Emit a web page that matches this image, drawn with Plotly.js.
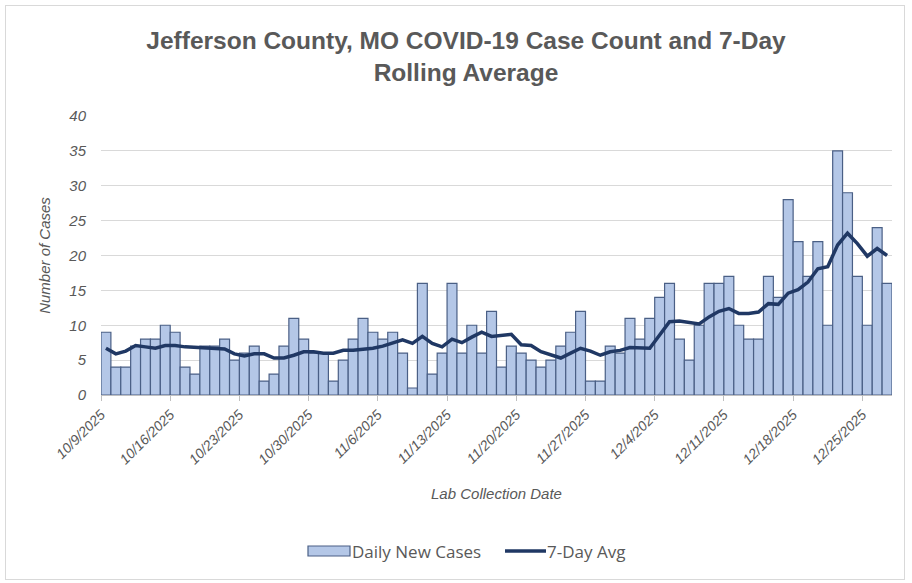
<!DOCTYPE html>
<html>
<head>
<meta charset="utf-8">
<script src="https://cdn.plot.ly/plotly-3.0.1.min.js"></script>
<style>
html,body{margin:0;padding:0;background:#fff;}
#frame{position:absolute;left:5px;top:5px;width:900px;height:575px;border:1px solid #d9d9d9;box-sizing:border-box;}
#chart{position:absolute;left:0;top:0;width:912px;height:583px;}
</style>
</head>
<body>
<div id="frame"></div>
<div id="chart"></div>
<script>
const dates = [
'2025-10-09','2025-10-10','2025-10-11','2025-10-12','2025-10-13','2025-10-14','2025-10-15','2025-10-16','2025-10-17','2025-10-18',
'2025-10-19','2025-10-20','2025-10-21','2025-10-22','2025-10-23','2025-10-24','2025-10-25','2025-10-26','2025-10-27','2025-10-28',
'2025-10-29','2025-10-30','2025-10-31','2025-11-01','2025-11-02','2025-11-03','2025-11-04','2025-11-05','2025-11-06','2025-11-07',
'2025-11-08','2025-11-09','2025-11-10','2025-11-11','2025-11-12','2025-11-13','2025-11-14','2025-11-15','2025-11-16','2025-11-17',
'2025-11-18','2025-11-19','2025-11-20','2025-11-21','2025-11-22','2025-11-23','2025-11-24','2025-11-25','2025-11-26','2025-11-27',
'2025-11-28','2025-11-29','2025-11-30','2025-12-01','2025-12-02','2025-12-03','2025-12-04','2025-12-05','2025-12-06','2025-12-07',
'2025-12-08','2025-12-09','2025-12-10','2025-12-11','2025-12-12','2025-12-13','2025-12-14','2025-12-15','2025-12-16','2025-12-17',
'2025-12-18','2025-12-19','2025-12-20','2025-12-21','2025-12-22','2025-12-23','2025-12-24','2025-12-25','2025-12-26','2025-12-27'
];
const dailyCases = [
9,4,4,7,8,8,10,9,4,3,
7,7,8,5,6,7,2,3,7,11,
8,6,6,2,5,8,11,9,8,9,
6,1,16,3,6,16,6,10,6,12,
4,7,6,5,4,5,7,9,12,2,
2,7,6,11,8,11,14,16,8,5,
10,16,16,17,10,8,8,17,14,28,
22,17,22,10,35,29,17,10,24,16
];
const avg7 = [
6.7,5.9,6.3,7.1,6.9,6.7,7.1,7.1,6.9,6.8,
6.7,6.7,6.6,5.9,5.6,5.9,5.9,5.3,5.3,5.7,
6.2,6.2,6.0,6.0,6.4,6.4,6.5,6.7,7.0,7.5,
7.9,7.4,8.4,7.4,6.9,8.0,7.5,8.3,9.0,8.4,
8.6,8.7,7.2,7.1,6.2,5.8,5.3,6.0,6.7,6.3,
5.7,6.2,6.4,6.8,6.7,6.7,8.6,10.5,10.6,10.4,
10.2,11.2,12.0,12.4,11.7,11.7,11.9,13.1,13.0,14.6,
15.1,16.2,18.1,18.4,21.5,23.2,21.7,19.9,21.0,20.0
];
const tickDates = ['2025-10-09','2025-10-16','2025-10-23','2025-10-30','2025-11-06','2025-11-13','2025-11-20','2025-11-27','2025-12-04','2025-12-11','2025-12-18','2025-12-25'];
const tickLabels = ['10/9/2025','10/16/2025','10/23/2025','10/30/2025','11/6/2025','11/13/2025','11/20/2025','11/27/2025','12/4/2025','12/11/2025','12/18/2025','12/25/2025'];
const yTicks = [0,5,10,15,20,25,30,35,40];
const legendNames = ['Daily New Cases','7-Day Avg'];

const gray = '#595959';
const fontFam = 'Liberation Sans, Arial, sans-serif';
const barFill = '#b4c7e7', barEdge = '#4a5f85', lineColor = '#203864';

const traces = [
  {
    type:'bar', name:legendNames[0], x:dates, y:dailyCases,
    xperiod:86400000, xperiodalignment:'middle',
    marker:{color:barFill, line:{color:barEdge, width:1.2}},
    showlegend:false
  },
  {
    type:'scatter', mode:'lines', name:legendNames[1], x:dates, y:avg7,
    xperiod:86400000, xperiodalignment:'middle',
    line:{color:lineColor, width:3.5},
    showlegend:false
  }
];

// plot area geometry for legend placement (paper coords)
const L = 101, R = 892, T = 116, B = 395;
const px = v => (v - L) / (R - L);
const py = v => (B - v) / (B - T);
const legFont = {family:'Open Sans, Liberation Sans, sans-serif', size:17, color:gray};

const layout = {
  width:912, height:583,
  paper_bgcolor:'rgba(0,0,0,0)', plot_bgcolor:'rgba(0,0,0,0)',
  margin:{l:L, r:912-R, t:T, b:583-B, pad:0},
  bargap:0,
  showlegend:false,
  title:{
    text:'Jefferson County, MO COVID-19 Case Count and 7-Day<br>Rolling Average',
    font:{family:fontFam, size:24.5, color:gray, weight:'bold'},
    x:px(466), xanchor:'center', xref:'paper',
    y:1-49/583, yanchor:'middle', yref:'container'
  },
  xaxis:{
    type:'date',
    range:['2025-10-09','2025-12-28'],
    tickmode:'array', tickvals:tickDates, ticktext:tickLabels,
    tickangle:-45,
    tickfont:{family:fontFam, size:14, color:gray, style:'italic'},
    ticks:'outside', ticklen:5, tickcolor:'#bfbfbf', tickwidth:1,
    showgrid:false, zeroline:false,
    showline:true, linecolor:'#bfbfbf', linewidth:1,
    title:{text:'Lab Collection Date', font:{family:fontFam, size:15, color:gray, style:'italic'}, standoff:22},
    fixedrange:true
  },
  yaxis:{
    range:[0,40], tickmode:'array', tickvals:yTicks,
    tickfont:{family:fontFam, size:15, color:gray, style:'italic'},
    showgrid:true, gridcolor:'#d9d9d9', gridwidth:1,
    zeroline:false, showline:false, ticks:'', ticklabelstandoff:14,
    title:{text:'Number of Cases', font:{family:fontFam, size:15, color:gray, style:'italic'}, standoff:14},
    fixedrange:true
  },
  shapes:[
    {type:'rect', xref:'paper', yref:'paper', x0:px(308), x1:px(350), y0:py(556), y1:py(546),
     fillcolor:barFill, line:{color:barEdge, width:1.2}},
    {type:'line', xref:'paper', yref:'paper', x0:px(505), x1:px(546), y0:py(551), y1:py(551),
     line:{color:lineColor, width:3.5}}
  ],
  annotations:[
    {xref:'paper', yref:'paper', x:px(350), y:py(551), xanchor:'left', yanchor:'middle',
     text:legendNames[0], showarrow:false, font:legFont},
    {xref:'paper', yref:'paper', x:px(545), y:py(551), xanchor:'left', yanchor:'middle',
     text:legendNames[1], showarrow:false, font:legFont}
  ]
};

Plotly.newPlot('chart', traces, layout, {displayModeBar:false, staticPlot:true});
</script>
</body>
</html>
